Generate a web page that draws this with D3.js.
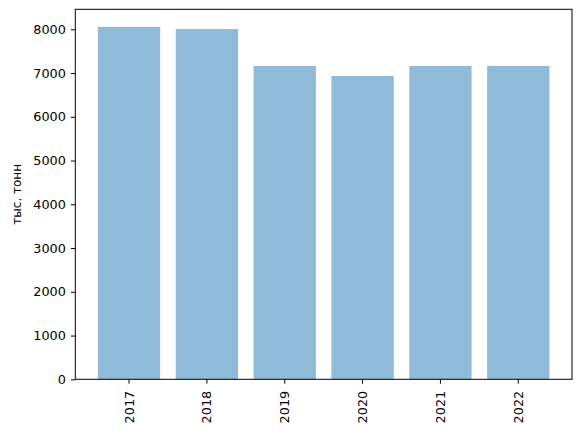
<!DOCTYPE html>
<html lang="ru">
<head>
    <meta charset="UTF-8">
    <title>тыс. тонн</title>
    <style>
        body {
            margin: 0;
            padding: 0;
            background-color: #fff;
        }

        svg text {
            font-family: 'DejaVu Sans', sans-serif;
            fill: #000;
        }
    </style>
</head>
<body>
<div id="chart"></div>

<script src="https://d3js.org/d3.v7.min.js"></script>
<script>
    // data
    const years = ["2017", "2018", "2019", "2020", "2021", "2022"];
    const values = [8054, 8005, 7161, 6933, 7161, 7161];
    const yTicks = [0, 1000, 2000, 3000, 4000, 5000, 6000, 7000, 8000];
    const yLabel = "тыс. тонн";

    const width = 580;
    const height = 434;
    const margin = {top: 9.3, right: 8, bottom: 54.7, left: 75.3};

    const svg = d3.select("#chart")
        .append("svg")
        .attr("width", width)
        .attr("height", height);

    const x = d3.scaleBand()
        .domain(years)
        .range([margin.left, width - margin.right])
        .paddingInner(0.2)
        .paddingOuter(0.29);

    const y = d3.scaleLinear()
        .domain([0, d3.max(values) * 1.05])
        .range([height - margin.bottom, margin.top]);

    // bars
    svg.append("g")
        .selectAll("rect")
        .data(values)
        .enter().append("rect")
        .attr("x", (d, i) => x(years[i]))
        .attr("y", d => y(d))
        .attr("width", x.bandwidth())
        .attr("height", d => y(0) - y(d))
        .attr("fill", "#1f77b4")
        .attr("fill-opacity", 0.5);

    // axes
    const xAxis = svg.append("g")
        .attr("transform", "translate(0," + (height - margin.bottom) + ")")
        .call(d3.axisBottom(x).tickSizeOuter(0).tickSize(4.4).tickPadding(4.4));

    xAxis.selectAll("text")
        .style("font-size", "12.8px")
        .attr("transform", "rotate(-90)")
        .attr("text-anchor", "end")
        .attr("dy", "0.35em")
        .attr("x", -11.5)
        .attr("y", 0);

    const yAxis = svg.append("g")
        .attr("transform", "translate(" + margin.left + ",0)")
        .call(d3.axisLeft(y)
            .tickValues(yTicks)
            .tickFormat(d3.format("d"))
            .tickSizeOuter(0)
            .tickSize(4.4)
            .tickPadding(5));

    yAxis.selectAll("text").style("font-size", "12.8px");

    svg.selectAll(".domain").remove();
    svg.selectAll(".tick line").attr("stroke", "#000").attr("stroke-width", 1);

    // frame
    svg.append("rect")
        .attr("x", margin.left)
        .attr("y", margin.top)
        .attr("width", width - margin.left - margin.right)
        .attr("height", height - margin.top - margin.bottom)
        .attr("fill", "none")
        .attr("stroke", "#000")
        .attr("stroke-width", 1);

    svg.append("text")
        .attr("transform", "translate(17," + ((margin.top + height - margin.bottom) / 2) + ") rotate(-90)")
        .attr("text-anchor", "middle")
        .attr("dy", "0.35em")
        .style("font-size", "12px")
        .text(yLabel);
</script>
</body>
</html>
